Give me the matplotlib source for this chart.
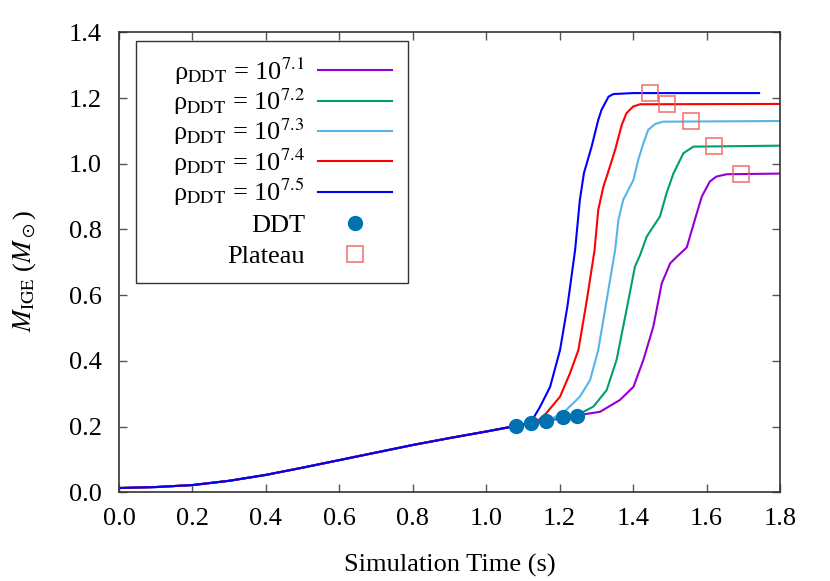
import numpy as np
import matplotlib
matplotlib.use('Agg')
import matplotlib.pyplot as plt
from matplotlib.patches import Rectangle

plt.rcParams['font.family'] = ['Liberation Serif', 'DejaVu Serif']
plt.rcParams['mathtext.fontset'] = 'stix'

# shared early evolution (all models identical before DDT)
base_t = [0.0, 0.1, 0.2, 0.3, 0.4, 0.5, 0.6, 0.7, 0.8, 0.9, 1.0, 1.081]
base_m = [0.013, 0.016, 0.022, 0.035, 0.053, 0.075, 0.098, 0.121, 0.144, 0.165, 0.185, 0.202]

# post-DDT evolution for each transition density
t71 = [1.248, 1.264, 1.310, 1.364, 1.401, 1.428, 1.455, 1.478, 1.501, 1.519, 1.546, 1.568, 1.587, 1.609, 1.627, 1.655, 1.8]
m71 = [0.233, 0.237, 0.245, 0.281, 0.321, 0.403, 0.504, 0.636, 0.697, 0.717, 0.745, 0.829, 0.900, 0.946, 0.961, 0.968, 0.970]
t72 = [1.208, 1.248, 1.292, 1.328, 1.355, 1.382, 1.405, 1.419, 1.437, 1.455, 1.473, 1.491, 1.510, 1.537, 1.564, 1.8]
m72 = [0.228, 0.235, 0.261, 0.311, 0.403, 0.555, 0.687, 0.722, 0.778, 0.809, 0.839, 0.910, 0.971, 1.032, 1.052, 1.055]
t73 = [1.163, 1.185, 1.208, 1.255, 1.283, 1.305, 1.328, 1.351, 1.360, 1.373, 1.401, 1.414, 1.428, 1.441, 1.460, 1.482, 1.8]
m73 = [0.218, 0.228, 0.240, 0.291, 0.342, 0.433, 0.585, 0.737, 0.829, 0.890, 0.951, 1.012, 1.062, 1.103, 1.121, 1.128, 1.130]
t74 = [1.121, 1.145, 1.163, 1.201, 1.228, 1.251, 1.274, 1.295, 1.305, 1.319, 1.331, 1.351, 1.369, 1.382, 1.400, 1.419, 1.8]
m74 = [0.212, 0.222, 0.240, 0.291, 0.362, 0.433, 0.585, 0.737, 0.859, 0.930, 0.971, 1.042, 1.118, 1.154, 1.174, 1.181, 1.182]
t75 = [1.121, 1.147, 1.174, 1.201, 1.221, 1.242, 1.255, 1.266, 1.287, 1.305, 1.314, 1.333, 1.346, 1.400, 1.743]
m75 = [0.212, 0.261, 0.321, 0.433, 0.565, 0.737, 0.890, 0.971, 1.052, 1.133, 1.164, 1.204, 1.212, 1.215, 1.215]

labels = ['7.1', '7.2', '7.3', '7.4', '7.5']
colors = ['#9400d3', '#009e73', '#56b4e9', '#ff0000', '#0000ff']

ddt_t = [1.081, 1.121, 1.163, 1.208, 1.248]
ddt_m = [0.202, 0.212, 0.218, 0.228, 0.233]
plat_t = [1.446, 1.492, 1.558, 1.620, 1.693]
plat_m = [1.215, 1.182, 1.130, 1.055, 0.969]

W, H = 830, 581
fig = plt.figure(figsize=(W / 100, H / 100), dpi=100)
ax = fig.add_axes([119 / W, 1 - 492.3 / H, 661 / W, 460 / H])

tails = [(t71, m71), (t72, m72), (t73, m73), (t74, m74), (t75, m75)]
lines = []
for (tt, mm), lab, c in zip(tails, labels, colors):
    l, = ax.plot(base_t + tt, base_m + mm, color=c, lw=1.5,
                 label=r'ρ$_{\rm DDT}$ = 10$^{%s}$' % lab)
    lines.append(l)

pd_, = ax.plot(ddt_t, ddt_m, 'o', color='#0072b2', ms=10, ls='none', label='DDT', zorder=5)
pp_, = ax.plot(plat_t, plat_m, 's', mfc='none', mec='#f0605a', mew=1.2, ms=11, alpha=0.85,
               ls='none', label='Plateau', zorder=5)

ax.set_xlim(0, 1.8)
ax.set_ylim(0, 1.4)
ax.set_xticks(np.arange(0, 1.81, 0.2))
ax.set_yticks(np.arange(0, 1.41, 0.2))
ax.set_xticklabels(['%.1f' % v for v in np.arange(0, 1.81, 0.2)])
ax.set_yticklabels(['%.1f' % v for v in np.arange(0, 1.41, 0.2)])
ax.tick_params(direction='in', top=True, right=True, length=6, width=1,
               color='#555555', labelsize=19)
ax.tick_params(axis='x', pad=11)
ax.tick_params(axis='y', pad=12.5)
for s in ax.spines.values():
    s.set_linewidth(1.2)
    s.set_color('#333333')

ax.set_xlabel('Simulation Time (s)', fontsize=19)
ax.set_ylabel(r'$M_{\rm IGE}$ ($M_\odot$)', fontsize=19)
ax.xaxis.set_label_coords(0.5, -0.134)
ax.yaxis.set_label_coords(-0.1225, 0.48)

# gnuplot-style key: frame drawn separately, two key blocks inside it
frame = Rectangle((135.7 / W, 1 - 283 / H), 272.3 / W, 242 / H, transform=fig.transFigure,
                  facecolor='white', edgecolor='#333333', lw=1.0, zorder=4, clip_on=False)
ax.add_patch(frame)

common = dict(markerfirst=False, fontsize=19, handlelength=2.8, handletextpad=0.5,
              frameon=False, borderpad=0, borderaxespad=0, numpoints=1,
              loc='upper right', bbox_transform=fig.transFigure)
leg1 = ax.legend(handles=lines, labelspacing=-0.02,
                 bbox_to_anchor=(392 / W, 1 - 55.5 / H), **common)
ax.add_artist(leg1)
leg2 = ax.legend(handles=[pd_, pp_], labelspacing=0.3,
                 bbox_to_anchor=(392 / W, 1 - 213.5 / H), **common)
leg1.set_zorder(6)
leg2.set_zorder(6)

fig.savefig('out.png', dpi=100)
